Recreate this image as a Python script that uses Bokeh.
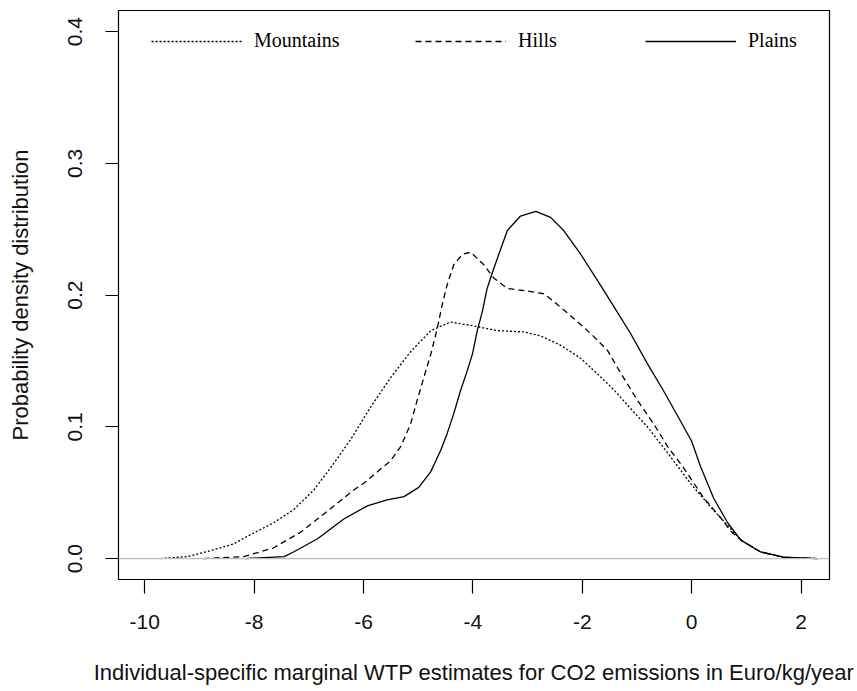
from bokeh.plotting import figure
from bokeh.models import (Range1d, FixedTicker, PrintfTickFormatter, Span,
                          Legend, LegendItem)
from bokeh.embed import file_html
from bokeh.resources import INLINE

# ---- data ----
mountains_x = [-9.71, -9.22, -8.80, -8.38, -8.12, -7.65, -7.28, -6.91, -6.60, -6.24,
               -5.87, -5.51, -5.14, -4.77, -4.41, -4.04, -3.55, -3.07, -2.76, -2.40,
               -2.03, -1.72, -1.42, -1.12, -0.81, -0.51, -0.02, 0.35, 0.66, 0.90,
               1.26, 1.68, 2.30]
mountains_y = [0.0, 0.0015, 0.006, 0.011, 0.017, 0.027, 0.037, 0.052, 0.069, 0.090,
               0.115, 0.137, 0.157, 0.173, 0.1795, 0.177, 0.173, 0.172, 0.169, 0.162,
               0.152, 0.140, 0.128, 0.114, 0.100, 0.084, 0.057, 0.039, 0.025, 0.014,
               0.005, 0.001, 0.0]

hills_x = [-8.93, -8.19, -7.65, -7.15, -6.66, -6.18, -6.00, -5.51, -5.32, -5.14,
           -5.02, -4.90, -4.77, -4.65, -4.56, -4.47, -4.35, -4.19, -4.04, -3.80,
           -3.62, -3.37, -3.00, -2.70, -2.46, -2.15, -1.85, -1.54, -1.30, -0.99,
           -0.69, -0.44, -0.15, 0.22, 0.53, 0.71, 0.90, 1.26, 1.68, 2.30]
hills_y = [0.0, 0.0015, 0.008, 0.020, 0.036, 0.052, 0.057, 0.074, 0.085, 0.102,
           0.120, 0.137, 0.155, 0.175, 0.193, 0.208, 0.223, 0.231, 0.2325, 0.223,
           0.213, 0.205, 0.203, 0.201, 0.193, 0.182, 0.171, 0.158, 0.141, 0.120,
           0.102, 0.085, 0.069, 0.046, 0.031, 0.021, 0.014, 0.005, 0.001, 0.0]

plains_x = [-8.16, -7.45, -7.28, -6.84, -6.36, -5.93, -5.57, -5.26, -4.99, -4.77,
            -4.59, -4.47, -4.35, -4.23, -4.10, -4.01, -3.92, -3.83, -3.74, -3.62,
            -3.50, -3.37, -3.13, -2.85, -2.58, -2.34, -2.03, -1.72, -1.42, -1.12,
            -0.81, -0.51, -0.20, 0.00, 0.16, 0.40, 0.66, 0.90, 1.26, 1.68, 2.30]
plains_y = [0.0, 0.0015, 0.005, 0.015, 0.030, 0.040, 0.0445, 0.047, 0.054, 0.066,
            0.082, 0.095, 0.110, 0.127, 0.143, 0.155, 0.173, 0.187, 0.205, 0.220,
            0.234, 0.249, 0.260, 0.2635, 0.259, 0.249, 0.231, 0.211, 0.191, 0.171,
            0.148, 0.127, 0.104, 0.089, 0.070, 0.046, 0.027, 0.014, 0.005, 0.001, 0.0]

x_ticks = [-10, -8, -6, -4, -2, 0, 2]
y_ticks = [0.0, 0.1, 0.2, 0.3, 0.4]
series_names = ["Mountains", "Hills", "Plains"]

x_title = "Individual-specific marginal WTP estimates for CO2 emissions in Euro/kg/year"
y_title = "Probability density distribution"

# ---- figure ----
p = figure(frame_width=711, frame_height=569,
           min_border_left=118, min_border_right=28,
           min_border_top=10, min_border_bottom=112,
           x_range=Range1d(-10.48, 2.52), y_range=Range1d(-0.0159, 0.4160),
           output_backend="svg", toolbar_location=None,
           background_fill_color="white", border_fill_color="white")

p.xgrid.visible = False
p.ygrid.visible = False
p.outline_line_color = "black"
p.outline_line_width = 1.2

AX_FONT = "Liberation Sans"
for ax in (p.xaxis[0], p.yaxis[0]):
    ax.axis_line_color = None
    ax.major_tick_line_color = "black"
    ax.major_tick_line_width = 1.2
    ax.major_tick_in = 0
    ax.minor_tick_line_color = None
    ax.major_label_text_font = AX_FONT
    ax.major_label_text_font_size = "21px"
    ax.major_label_text_color = "#111111"
    ax.axis_label_text_font = AX_FONT
    ax.axis_label_text_font_style = "normal"
    ax.axis_label_text_color = "#111111"

p.xaxis.ticker = FixedTicker(ticks=x_ticks)
p.xaxis.formatter = PrintfTickFormatter(format="%d")
p.xaxis.major_tick_out = 14
p.xaxis.major_label_standoff = 21
p.xaxis.axis_label = x_title
p.xaxis.axis_label_text_font_size = "22px"
p.xaxis.axis_label_standoff = 28

p.yaxis.ticker = FixedTicker(ticks=y_ticks)
p.yaxis.formatter = PrintfTickFormatter(format="%.1f")
p.yaxis.major_tick_out = 13
p.yaxis.major_label_standoff = 23
p.yaxis.major_label_orientation = "parallel"
p.yaxis.axis_label = y_title
p.yaxis.axis_label_text_font_size = "22px"
p.yaxis.axis_label_standoff = 33

p.add_layout(Span(location=0, dimension="width", line_color="#bebebe", line_width=1.2))

r_m = p.line(mountains_x, mountains_y, line_color="black", line_width=1.3, line_dash="2 2")
r_h = p.line(hills_x, hills_y, line_color="black", line_width=1.3, line_dash="6 4")
r_p = p.line(plains_x, plains_y, line_color="black", line_width=1.3)

leg_pos = [(33, 527), (297, 527), (527, 527)]
for name, r, loc in zip(series_names, [r_m, r_h, r_p], leg_pos):
    leg = Legend(items=[LegendItem(label=name, renderers=[r])], location=loc,
                 orientation="horizontal", glyph_width=91, glyph_height=20,
                 label_standoff=12, label_height=20, padding=0, margin=0, spacing=0,
                 border_line_color=None, background_fill_alpha=0,
                 label_text_font="Liberation Serif", label_text_font_size="20px",
                 label_text_color="black", click_policy="none")
    p.add_layout(leg, "center")

open("out.html", "w").write(file_html(p, INLINE))
